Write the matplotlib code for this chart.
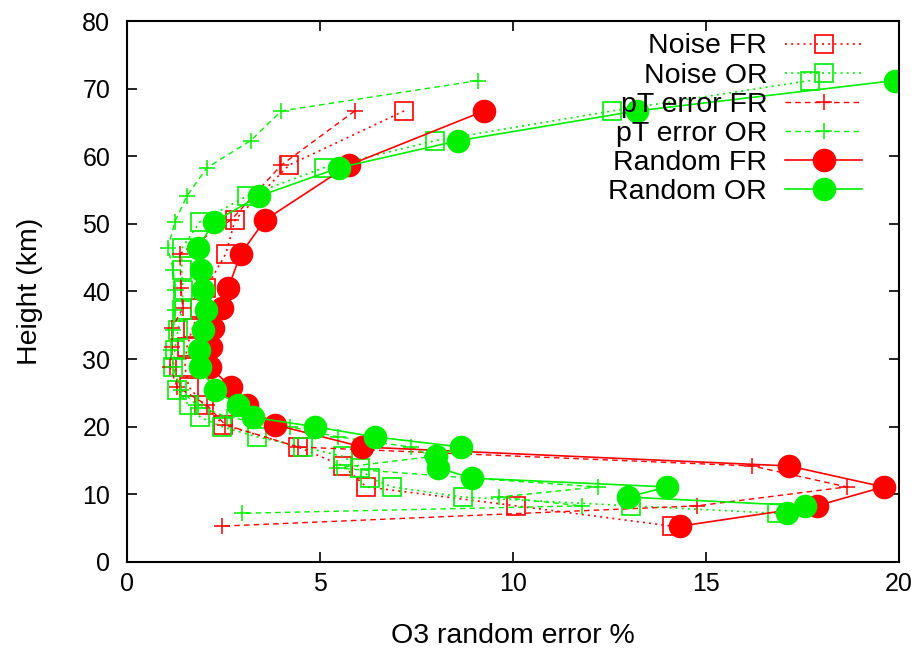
import matplotlib
matplotlib.use("Agg")
import matplotlib.pyplot as plt

plt.rcParams['font.family'] = ['Liberation Sans', 'DejaVu Sans']

# heights (km) of the two retrieval grids
h_fr = [66.7, 58.7, 50.6, 45.6, 40.5, 37.6, 34.6, 31.8, 28.8, 25.9, 23.2, 20.3,
        17.0, 14.2, 11.1, 8.3, 5.3]
h_or = [71.2, 66.7, 62.3, 58.3, 54.1, 50.3, 46.4, 43.2, 40.2, 37.3, 34.3, 31.4,
        28.8, 25.4, 23.2, 21.4, 20.0, 18.5, 17.0, 15.6, 13.9, 12.4, 11.1, 9.6,
        8.3, 7.2]

noise_fr = [7.18, 4.2, 2.8, 2.56, 2.05, 1.9, 1.7, 1.55, 1.5, 1.6, 2.0, 2.49,
            4.43, 5.6, 6.2, 10.08, 14.12]
noise_or = [17.7, 12.56, 7.98, 5.1, 3.1, 1.89, 1.42, 1.42, 1.45, 1.42, 1.32,
            1.24, 1.2, 1.3, 1.6, 1.9, 2.46, 3.37, 4.56, 5.6, 6.04, 6.3, 6.87,
            8.7, 13.06, 16.84]
pt_fr = [5.9, 4.0, 2.7, 1.37, 1.4, 1.45, 1.17, 1.17, 1.11, 1.3, 2.07, 2.54,
         4.43, 16.2, 18.65, 14.77, 2.46]
pt_or = [9.1, 4.0, 3.2, 2.07, 1.55, 1.24, 1.06, 1.2, 1.24, 1.25, 1.2, 1.15,
         1.2, 1.4, 1.8, 2.6, 4.22, 5.47, 7.36, 7.9, 5.44, 8.9, 12.2, 9.64,
         11.79, 2.98]
random_fr = [9.25, 5.75, 3.58, 2.95, 2.62, 2.46, 2.23, 2.18, 2.15, 2.69, 3.1,
             3.83, 6.1, 17.15, 19.6, 17.87, 14.33]
random_or = [19.9, 13.2, 8.58, 5.49, 3.42, 2.25, 1.84, 1.92, 1.97, 2.05, 1.97,
             1.87, 1.89, 2.28, 2.88, 3.26, 4.87, 6.42, 8.65, 8.0, 8.06, 8.94,
             13.99, 12.98, 17.56, 17.1]

RED = '#ff0000'
GREEN = '#00f000'
dotted = (0, (1.2, 2.5))
dashed = (0, (4, 3))

fig = plt.figure(figsize=(9.23, 6.53), dpi=100)
ax = fig.add_axes([0.1376, 0.1394, 0.8364, 0.8284])

ax.plot(noise_fr, h_fr, color=RED, ls=dotted, lw=1.2, marker='s', ms=12.5,
        mfc='none', mec=RED, mew=1.2, label='Noise FR')
ax.plot(noise_or, h_or, color=GREEN, ls=dotted, lw=1.2, marker='s', ms=12.5,
        mfc='none', mec=GREEN, mew=1.2, label='Noise OR')
ax.plot(pt_fr, h_fr, color=RED, ls=dashed, lw=1.0, marker='+', ms=12,
        mew=1.1, label='pT error FR')
ax.plot(pt_or, h_or, color=GREEN, ls=dashed, lw=1.0, marker='+', ms=12,
        mew=1.1, label='pT error OR')
ax.plot(random_fr, h_fr, color=RED, ls='-', lw=1.2, marker='o', ms=17,
        mec='none', label='Random FR')
ax.plot(random_or, h_or, color=GREEN, ls='-', lw=1.2, marker='o', ms=17,
        mec='none', label='Random OR')

ax.set_xlim(0, 20)
ax.set_ylim(0, 80)
ax.set_xticks([0, 5, 10, 15, 20])
ax.set_yticks(range(0, 81, 10))
ax.tick_params(direction='in', length=7, width=1.2, labelsize=18,
               top=True, right=True)
ax.tick_params(axis='y', pad=12)
ax.tick_params(axis='x', pad=7)
for s in ax.spines.values():
    s.set_linewidth(1.5)

ax.set_xlabel('O3 random error %', fontsize=20.5, labelpad=20)
ax.set_ylabel('Height (km)', fontsize=20.5, labelpad=28)

ax.legend(loc='upper right', bbox_to_anchor=(0.952, 0.977), frameon=False,
          markerfirst=False, numpoints=1, fontsize=20.5, handlelength=2.7,
          handletextpad=0.63, labelspacing=0.11, borderpad=0, borderaxespad=0)

fig.savefig('out.png', dpi=100)
